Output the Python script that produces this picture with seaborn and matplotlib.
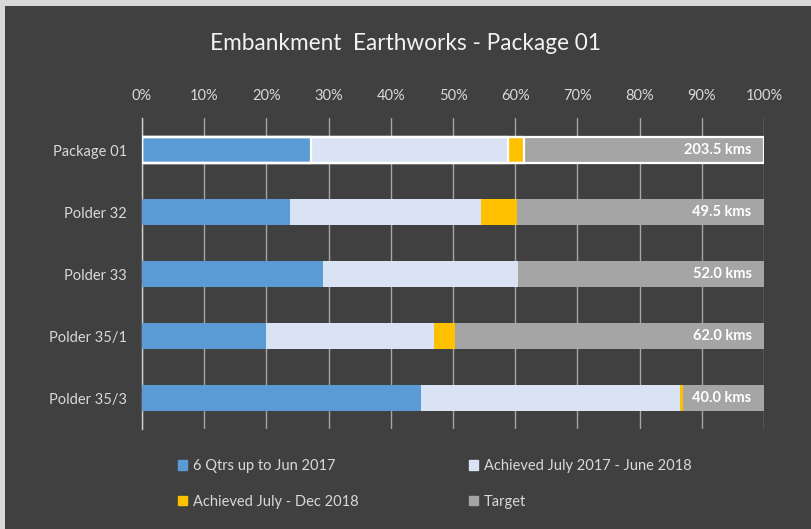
import numpy as np
import pandas as pd
import matplotlib
matplotlib.use("Agg")
import matplotlib.pyplot as plt
import matplotlib.patches as mpatches
import seaborn as sns

# data (percent of target length)
categories = ["Package 01", "Polder 32", "Polder 33", "Polder 35/1", "Polder 35/3"]
qtrs_to_jun2017 = [27.2, 23.8, 29.1, 19.9, 44.9]
jul2017_jun2018 = [31.6, 30.7, 31.4, 27.0, 41.6]
jul_dec2018 = [2.6, 5.8, 0.0, 3.4, 0.5]
target_kms = [203.5, 49.5, 52.0, 62.0, 40.0]

series_names = ["6 Qtrs up to Jun 2017", "Achieved July 2017 - June 2018",
                "Achieved July - Dec 2018", "Target"]
colors = ["#5B9BD5", "#DAE3F3", "#FFC000", "#A5A5A5"]

bg = "#404040"
txt = "#D9D9D9"

df = pd.DataFrame({"cat": categories,
                   "s1": qtrs_to_jun2017,
                   "s2": jul2017_jun2018,
                   "s3": jul_dec2018})
df["c1"] = df["s1"]
df["c2"] = df["c1"] + df["s2"]
df["c3"] = df["c2"] + df["s3"]
df["c4"] = 100.0

sns.set_style("dark")
plt.rcParams["font.family"] = ["Lato", "DejaVu Sans"]

fig = plt.figure(figsize=(8.12, 5.29), dpi=100, facecolor="#D8D8D8")
# dark panel (light border on top and left like the reference)
fig.patches.append(mpatches.Rectangle((5 / 812, 0), 1, 1 - 6 / 529,
                                      transform=fig.transFigure,
                                      facecolor=bg, edgecolor="none", zorder=-10))

ax = fig.add_axes([142 / 812, 1 - 429 / 529, 622 / 812, 311 / 529])
ax.set_facecolor(bg)

# stacked bars by overlaying cumulative totals, widest first
for col, c in zip(["c4", "c3", "c2", "c1"], colors[::-1]):
    sns.barplot(data=df, x=col, y="cat", orient="h", color=c, width=0.42,
                saturation=1, linewidth=0, ax=ax, zorder=3)

# white outline on the Package 01 bar
for col in ["c4", "c3", "c2", "c1"]:
    ax.barh(0, df.loc[0, col], height=0.42, left=0, facecolor="none",
            edgecolor="white", linewidth=1.6, zorder=4)

for i, v in enumerate(target_kms):
    ax.text(98, i, f"{v:.1f} kms", ha="right", va="center", color="white",
            fontsize=10.5, fontweight="bold", zorder=5)

ax.set_xlim(0, 100)
ax.set_ylim(4.5, -0.52)
ax.set_xticks(np.arange(0, 101, 10))
ax.set_xticklabels([f"{t}%" for t in range(0, 101, 10)])
ax.xaxis.tick_top()
ax.tick_params(axis="x", colors=txt, labelsize=10.5, length=0, pad=11)
ax.tick_params(axis="y", colors=txt, labelsize=10.5, length=0, pad=11)
for lab in ax.get_xticklabels() + ax.get_yticklabels():
    lab.set_color(txt)
ax.set_xlabel("")
ax.set_ylabel("")
ax.grid(axis="x", color="#A6A6A6", linewidth=1, zorder=1)
ax.grid(axis="y", visible=False)
for s in ["top", "right", "bottom"]:
    ax.spines[s].set_visible(False)
ax.spines["left"].set_color("#D0D0D0")
ax.spines["left"].set_linewidth(1)

fig.text(0.5, 1 - 43 / 529, "Embankment  Earthworks - Package 01", ha="center",
         va="center", color="#F2F2F2", fontsize=16.3)

handles = [mpatches.Patch(color=c) for c in colors]
order = [0, 2, 1, 3]
fig.legend([handles[i] for i in order], [series_names[i] for i in order],
           ncol=2, loc="upper left", bbox_to_anchor=(165 / 812, 1 - 446 / 529),
           frameon=False, fontsize=10.5, labelcolor=txt, handlelength=0.6,
           handleheight=0.6, handletextpad=0.4, columnspacing=7.6,
           labelspacing=1.5)

fig.savefig("out.png", dpi=100, facecolor=fig.get_facecolor())
